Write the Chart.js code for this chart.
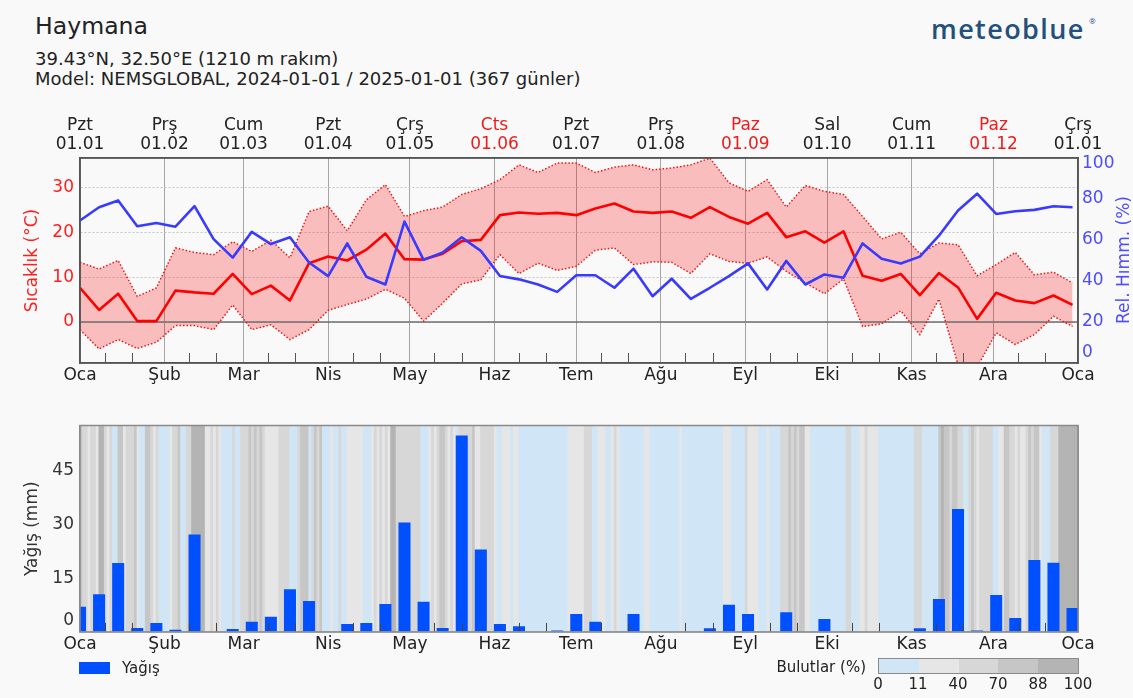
<!DOCTYPE html>
<html>
<head>
<meta charset="utf-8">
<script src="https://cdn.jsdelivr.net/npm/chart.js@4.4.1/dist/chart.umd.min.js"></script>
<style>
html,body{margin:0;padding:0;background:#f9f9f9;}
body{width:1133px;height:698px;position:relative;overflow:hidden;font-family:"DejaVu Sans",sans-serif;color:#222;}
canvas{position:absolute;left:0;}
.t{position:absolute;white-space:nowrap;line-height:1;}
</style>
</head>
<body>
<div class="t" style="left:35px;top:15px;font-size:23.6px;">Haymana</div>
<div class="t" style="left:35px;top:50px;font-size:18px;">39.43°N, 32.50°E (1210 m rakım)</div>
<div class="t" style="left:35px;top:70px;font-size:18px;">Model: NEMSGLOBAL, 2024-01-01 / 2025-01-01 (367 günler)</div>
<div class="t" style="left:931px;top:15px;font-family:'Open Sans',sans-serif;font-weight:600;font-size:27px;letter-spacing:1.4px;color:#23507c;">meteoblue</div>
<div class="t" style="left:1089px;top:17px;font-family:'Open Sans',sans-serif;font-size:8px;color:#23507c;">®</div>

<canvas id="c1" width="1133" height="400" style="top:0;"></canvas>
<canvas id="c2" width="1133" height="260" style="top:400px;"></canvas>

<div class="t" id="humTitle" style="left:1023px;top:249px;width:200px;text-align:center;font-size:17px;line-height:22px;color:#4d4dff;transform:rotate(-90deg);">Rel. Hımm. (%)</div>

<div id="legRain" style="position:absolute;left:79px;top:662px;width:31px;height:12px;"></div>
<div class="t" style="left:122px;top:661px;font-size:15px;">Yağış</div>
<div class="t" style="left:700px;top:660px;width:166px;text-align:right;font-size:15px;">Bulutlar (%)</div>
<div id="cbar" style="position:absolute;left:878px;top:658px;width:201px;height:16px;display:flex;border:1px solid #8a8a8a;box-sizing:border-box;"></div>
<div id="cbarLabels"></div>

<script>
// ---------- data ----------
const monthStarts = [0, 31, 60, 91, 121, 152, 182, 213, 244, 274, 305, 335, 366];
const monthNames  = ['Oca','Şub','Mar','Nis','May','Haz','Tem','Ağu','Eyl','Eki','Kas','Ara','Oca'];
const headerDays  = ['Pzt','Prş','Cum','Pzt','Çrş','Cts','Pzt','Prş','Paz','Sal','Cum','Paz','Çrş'];
const headerDates = ['01.01','01.02','01.03','01.04','01.05','01.06','01.07','01.08','01.09','01.10','01.11','01.12','01.01'];
const weekendDays = ['Cts','Paz'];
const WEEK = 7;

const tempTicks = [0, 10, 20, 30];
const humTicks  = [0, 20, 40, 60, 80, 100];
const rainTicks = [0, 15, 30, 45];
const cloudLegendTicks = [0, 11, 40, 70, 88, 100];
const cloudColors = ['#d0e6f6', '#e6e6e6', '#d7d7d7', '#c6c6c6', '#b4b4b4'];

const tempMean = [7.6, 2.7, 6.3, 0.2, 0.2, 7.0, 6.6, 6.3, 10.7, 6.2,
                  8.1, 4.8, 13.1, 14.6, 13.7, 16.1, 19.7, 14.0, 13.9, 15.2,
                  18.0, 18.3, 23.8, 24.4, 24.1, 24.3, 23.8, 25.3, 26.4, 24.6,
                  24.3, 24.6, 23.2, 25.6, 23.4, 21.9, 24.3, 18.9, 20.2, 17.7,
                  20.2, 10.3, 9.2, 10.7, 6.0, 10.9, 7.7, 0.7, 6.5, 4.8,
                  4.2, 5.9, 3.8];
const tempMax  = [13.3, 11.8, 13.7, 5.7, 7.6, 16.5, 15.5, 15.0, 17.9, 15.7,
                  18.2, 14.3, 24.6, 25.8, 20.3, 27.2, 30.6, 23.5, 24.8, 25.6,
                  28.4, 29.7, 31.7, 35.0, 33.3, 35.4, 35.4, 33.3, 34.5, 35.0,
                  33.9, 34.3, 35.0, 36.5, 31.0, 29.1, 31.7, 25.6, 30.4, 29.1,
                  28.4, 23.5, 18.5, 20.0, 15.2, 17.6, 17.2, 10.3, 12.8, 15.5,
                  10.5, 11.1, 8.7];
const tempMin  = [-1.7, -6.0, -3.9, -5.9, -4.5, -0.8, -0.8, -1.7, 3.8, -1.7,
                  -0.6, -3.9, -1.7, 2.6, 3.9, 5.1, 7.3, 5.3, 0.2, 4.2,
                  8.5, 9.4, 15.0, 10.8, 13.1, 11.5, 12.4, 16.0, 16.5, 12.8,
                  13.4, 13.3, 10.8, 15.2, 13.5, 13.1, 14.5, 11.3, 8.7, 6.3,
                  9.6, -1.0, -0.4, 2.5, -2.8, 5.1, -9.5, -10.0, -2.4, -5.0,
                  -2.8, 1.3, -1.0];
const humidity = [69.5, 76.0, 79.3, 66.7, 68.3, 66.5, 76.5, 60.4, 51.4, 64.0,
                  58.0, 61.3, 49.0, 42.4, 58.3, 42.1, 38.3, 69.0, 50.3, 53.9,
                  61.3, 54.7, 42.4, 40.8, 38.3, 34.7, 42.8, 42.8, 36.7, 46.0,
                  32.6, 41.1, 31.3, 36.7, 42.4, 48.6, 35.9, 49.8, 38.3, 43.2,
                  41.6, 58.3, 50.9, 48.5, 51.9, 62.1, 74.4, 82.6, 72.7, 74.0,
                  74.7, 76.5, 76.0];
const precip   = [7.0, 10.5, 19.2, 1.1, 2.5, 0.6, 27.2, 0, 0.8, 2.8,
                  4.2, 11.9, 8.6, 0, 2.2, 2.5, 7.8, 30.5, 8.4, 1.1,
                  54.8, 23.0, 2.2, 1.6, 0, 0.4, 5.0, 2.8, 0, 5.0,
                  0, 0, 0, 1.0, 7.6, 5.0, 0, 5.5, 0, 3.6,
                  0, 0, 0, 0, 1.0, 9.2, 34.3, 0.4, 10.3, 3.9,
                  20.1, 19.3, 6.7];
// daily cloud-cover class (0: 0-11 %, 1: 11-40 %, 2: 40-70 %, 3: 70-88 %, 4: 88-100 %)
const cloudClassByDay = (
  "3221221442" + "1200331222" + "3100332120" + "0001223002" + "2444441121" +
  "2100002002" + "2232323211" + "1112222000" + "2333023230" + "0010020011" +
  "1111000121" + "2121442222" + "2222200012" + "1233212102" + "2222311222" +
  "2210011101" + "1000000000" + "0000000001" + "1111122200" + "1110012100" +
  "0000000110" + "0000000000" + "1000000000" + "0000001110" + "0000211110" +
  "0010000222" + "3232331100" + "0000000000" + "0220001121" + "1110000000" +
  "0000002220" + "0000034332" + "3322002321" + "2222200113" + "3221211232" +
  "3310002224" + "444444").split('').map(Number);

// ---------- styling ----------
const FONT = '"DejaVu Sans", sans-serif';
const RED = '#ff1e1e';
const BLUE_LINE = '#3a3aff';
const BLUE_TXT = '#4d4dff';
const RAIN = '#0050ff';
Chart.defaults.font.family = FONT;

const minorDays = monthStarts.slice(0, 12).flatMap(m => [m + 9, m + 19]);

function monthTicks(s) { s.ticks = monthStarts.map(v => ({value: v})); }

const minorTickPlugin = {
  id: 'minorTicks',
  afterDraw(chart, args, opts) {
    const {ctx, chartArea: a, scales: {x}} = chart;
    ctx.save();
    ctx.strokeStyle = opts.color;
    ctx.lineWidth = 1;
    minorDays.forEach(d => {
      const px = Math.round(x.getPixelForValue(d)) + 0.5;
      ctx.beginPath();
      ctx.moveTo(px, a.bottom);
      ctx.lineTo(px, a.bottom - opts.len);
      ctx.stroke();
    });
    ctx.restore();
  }
};

const zeroLinePlugin = {
  id: 'zeroLine',
  beforeDatasetsDraw(chart) {
    const {ctx, chartArea: a, scales: {y}} = chart;
    const py = y.getPixelForValue(0);
    ctx.save();
    ctx.strokeStyle = '#6e6e6e';
    ctx.lineWidth = 1.5;
    ctx.beginPath();
    ctx.moveTo(a.left, py);
    ctx.lineTo(a.right, py);
    ctx.stroke();
    ctx.restore();
  }
};

const framePlugin = {
  id: 'frame',
  afterDraw(chart, args, opts) {
    const {ctx, chartArea: a} = chart;
    ctx.save();
    ctx.strokeStyle = opts.color;
    ctx.lineWidth = opts.width;
    ctx.strokeRect(a.left, a.top, a.right - a.left, a.bottom - a.top);
    ctx.restore();
  }
};

const pts = arr => arr.map((v, i) => ({x: i * WEEK, y: v}));

// ---------- top chart ----------
new Chart(document.getElementById('c1'), {
  type: 'line',
  data: {
    datasets: [
      {label: 'Rel. Hımm.', data: pts(humidity), xAxisID: 'x', yAxisID: 'y2',
       borderColor: BLUE_LINE, borderWidth: 2.6, pointRadius: 0, tension: 0,
       borderJoinStyle: 'round', order: 0},
      {label: 'Sıcaklık', data: pts(tempMean), xAxisID: 'x', yAxisID: 'y',
       borderColor: '#ff0000', borderWidth: 2.6, pointRadius: 0, tension: 0,
       borderJoinStyle: 'round', order: 1},
      {label: 'Max', data: pts(tempMax), xAxisID: 'x', yAxisID: 'y',
       borderColor: '#f01515', borderWidth: 1.5, borderDash: [1.5, 2], pointRadius: 0,
       tension: 0, fill: '+1', backgroundColor: 'rgba(255,0,0,0.24)', order: 2},
      {label: 'Min', data: pts(tempMin), xAxisID: 'x', yAxisID: 'y',
       borderColor: '#f01515', borderWidth: 1.5, borderDash: [1.5, 2], pointRadius: 0,
       tension: 0, fill: false, order: 2}
    ]
  },
  options: {
    responsive: false, animation: false, devicePixelRatio: 1,
    layout: {padding: 0},
    plugins: {
      legend: {display: false}, tooltip: {enabled: false},
      filler: {propagate: false, drawTime: 'beforeDatasetsDraw'},
      minorTicks: {color: '#555', len: 10},
      frame: {color: '#555', width: 1.5}
    },
    scales: {
      x: {
        type: 'linear', position: 'bottom', min: 0, max: 366,
        afterBuildTicks: monthTicks, afterFit: s => { s.height = 37; },
        ticks: {autoSkip: false, maxRotation: 0, padding: 2, color: '#222',
                font: {size: 17}, callback: (v, i) => monthNames[i]},
        grid: {color: '#a5a5a5', lineWidth: 1, drawTicks: false},
        border: {color: '#555', width: 1.5}
      },
      x2: {
        type: 'linear', position: 'top', axis: 'x', min: 0, max: 366,
        afterBuildTicks: monthTicks, afterFit: s => { s.height = 158; },
        ticks: {autoSkip: false, maxRotation: 0, padding: 4,
                color: c => weekendDays.includes(headerDays[c.index]) ? '#ee1c1c' : '#222',
                font: {size: 17, lineHeight: 1.12},
                callback: (v, i) => [headerDays[i], headerDates[i]]},
        grid: {display: false, drawTicks: false},
        border: {color: '#555', width: 1.5}
      },
      y: {
        position: 'left', min: -9.13, max: 36.53,
        afterBuildTicks: s => { s.ticks = tempTicks.map(v => ({value: v})); },
        afterFit: s => { s.width = 80; },
        ticks: {autoSkip: false, padding: 6, color: RED, font: {size: 17}},
        grid: {color: '#c4c4c4', lineWidth: 1, drawTicks: false},
        border: {color: '#555', width: 1.5, dash: [2, 2]},
        title: {display: true, text: 'Sıcaklık (°C)', color: RED, font: {size: 17},
                padding: {top: 22, bottom: 0}}
      },
      y2: {
        position: 'right', min: 0, max: 100,
        afterBuildTicks: s => { s.ticks = humTicks.map(v => ({value: v})); },
        afterFit: s => { s.width = 55; },
        ticks: {autoSkip: false, padding: 4, color: BLUE_TXT,
                font: c => ({size: 17, lineHeight: c.tick && c.tick.value === 100 ? 0.7 : 1.25}),
                callback: v => v === 0 ? ['0', ''] : (v === 100 ? ['', '100'] : String(v))},
        grid: {drawOnChartArea: false, drawTicks: false},
        border: {color: '#555', width: 1.5}
      }
    }
  },
  plugins: [zeroLinePlugin, minorTickPlugin, framePlugin]
});

// ---------- bottom chart ----------
new Chart(document.getElementById('c2'), {
  type: 'bar',
  data: {
    datasets: [
      {label: 'Yağış', data: pts(precip), xAxisID: 'x', yAxisID: 'y', grouped: false,
       backgroundColor: RAIN, borderWidth: 0, barPercentage: 0.63, categoryPercentage: 1, order: 0},
      {label: 'Bulutlar', data: cloudClassByDay.map((c, d) => ({x: d + 0.5, y: 1})),
       xAxisID: 'xc', yAxisID: 'yc', grouped: false, inflateAmount: 0.6,
       backgroundColor: cloudClassByDay.map(c => cloudColors[c]),
       borderWidth: 0, barPercentage: 1, categoryPercentage: 1, order: 1}
    ]
  },
  options: {
    responsive: false, animation: false, devicePixelRatio: 1,
    layout: {padding: {top: 25.5, right: 55, left: 0, bottom: 0}},
    plugins: {
      legend: {display: false}, tooltip: {enabled: false},
      minorTicks: {color: '#444', len: 9},
      frame: {color: '#8a8a8a', width: 1.5}
    },
    scales: {
      x: {
        type: 'linear', position: 'bottom', min: 0, max: 366, offset: false, z: 1,
        afterBuildTicks: monthTicks, afterFit: s => { s.height = 28; },
        ticks: {autoSkip: false, maxRotation: 0, padding: 2, color: '#222',
                font: {size: 17}, callback: (v, i) => monthNames[i]},
        grid: {color: '#9a9a9a', lineWidth: 1, drawTicks: false, offset: false},
        border: {color: '#8a8a8a', width: 1.5}
      },
      xc: {type: 'linear', display: false, min: 0, max: 366, offset: false},
      y: {
        position: 'left', min: 0, max: 57.6, z: 1,
        afterBuildTicks: s => { s.ticks = rainTicks.map(v => ({value: v})); },
        afterFit: s => { s.width = 80; },
        ticks: {autoSkip: false, padding: 6, color: '#333', font: {size: 17, lineHeight: 1.3},
                callback: v => v === 0 ? ['0', ''] : String(v)},
        grid: {color: '#a0a0a0', lineWidth: 1, drawTicks: false},
        border: {color: '#8a8a8a', width: 1.5, dash: [2, 2]},
        title: {display: true, text: 'Yağış (mm)', color: '#333', font: {size: 17},
                padding: {top: 22, bottom: 0}}
      },
      yc: {display: false, min: 0, max: 1}
    }
  },
  plugins: [minorTickPlugin, framePlugin]
});

// ---------- legend ----------
document.getElementById('legRain').style.background = RAIN;
const cbar = document.getElementById('cbar');
cloudColors.forEach(c => {
  const d = document.createElement('div');
  d.style.flex = '1';
  d.style.background = c;
  cbar.appendChild(d);
});
const cbl = document.getElementById('cbarLabels');
cloudLegendTicks.forEach((v, i) => {
  const d = document.createElement('div');
  d.className = 't';
  d.style.cssText = `left:${878 + i * 40 - 20}px;top:677px;width:40px;text-align:center;font-size:15px;`;
  d.textContent = v;
  cbl.appendChild(d);
});
</script>
</body>
</html>
